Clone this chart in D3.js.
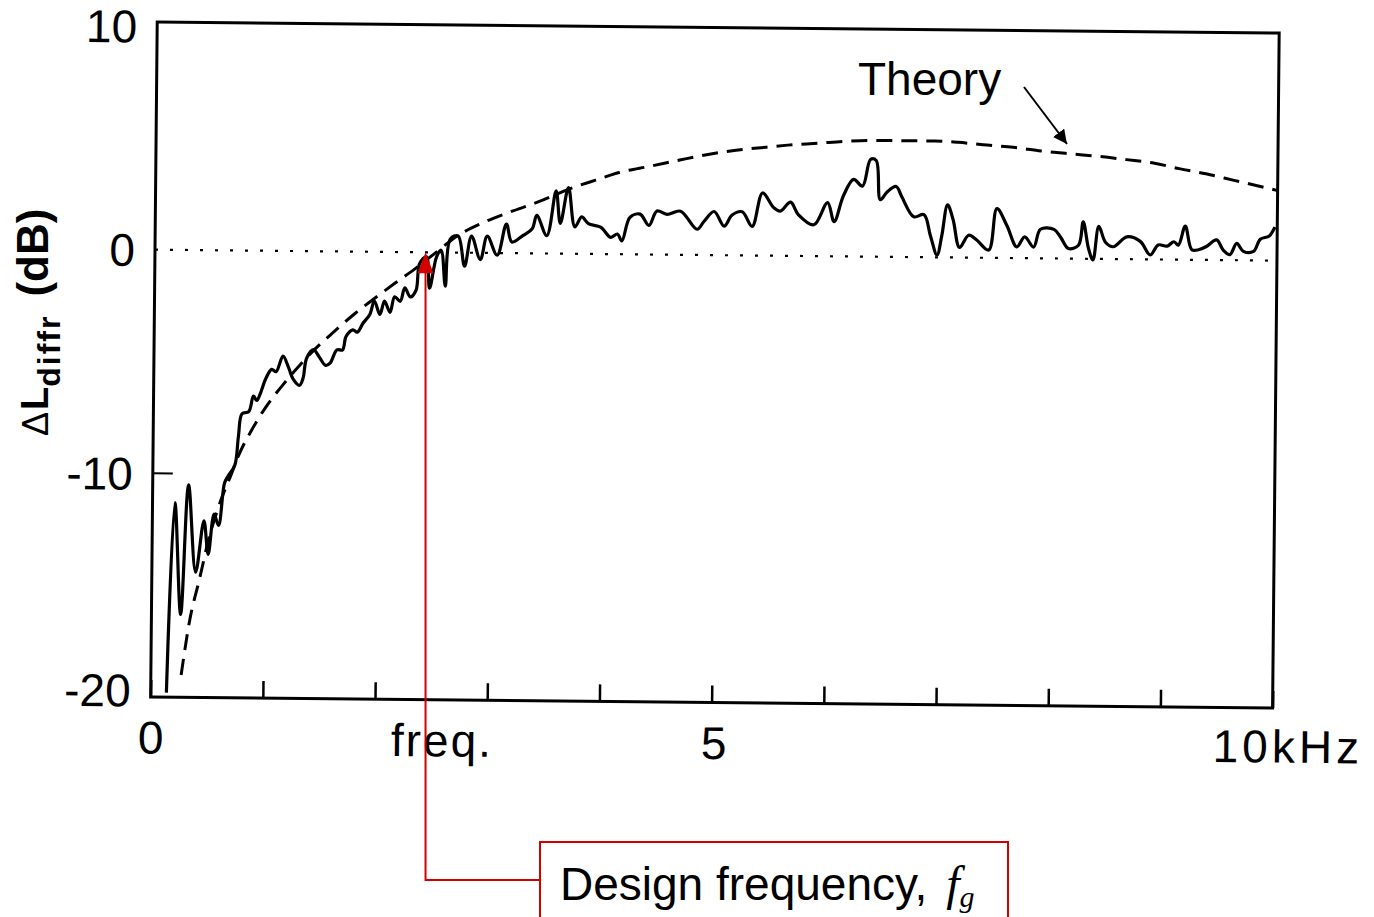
<!DOCTYPE html>
<html>
<head>
<meta charset="utf-8">
<script src="https://cdn.jsdelivr.net/npm/d3@7"></script>
<style>
    body { margin: 0; background: #fff; }
    svg { display: block; font-family: "Liberation Sans", Arial, sans-serif; }
</style>
</head>
<body>
<svg width="1374" height="917"></svg>
<script>
// measured diffraction level difference (kHz, dB)
let measFreq = [0.14, 0.20, 0.26, 0.32, 0.39, 0.46, 0.50, 0.55, 0.59, 0.64, 0.67, 0.73, 0.76, 0.79, 0.85, 0.89, 0.92, 0.95,
    1.00, 1.05, 1.09, 1.15, 1.20, 1.24, 1.30, 1.33, 1.36, 1.42, 1.47, 1.53, 1.57, 1.63, 1.68, 1.71, 1.77, 1.81, 1.86, 1.92, 1.96,
    2.01, 2.05, 2.10, 2.14, 2.19, 2.23, 2.28, 2.33, 2.36, 2.42, 2.45, 2.51, 2.55, 2.59, 2.63, 2.70, 2.76, 2.82, 2.90, 2.96,
    3.05, 3.13, 3.18, 3.28, 3.36, 3.40, 3.49, 3.57, 3.61, 3.68, 3.74, 3.80, 3.86, 3.97,
    4.06, 4.12, 4.16, 4.23, 4.32, 4.40, 4.47, 4.56, 4.68, 4.83, 4.89, 4.98,
    5.07, 5.14, 5.23, 5.32, 5.41, 5.51, 5.57, 5.66, 5.73, 5.87, 5.99,
    6.05, 6.13, 6.22, 6.30, 6.37, 6.42, 6.46, 6.52, 6.60, 6.65, 6.76, 6.85, 6.91, 6.97,
    7.01, 7.06, 7.11, 7.17, 7.25, 7.32, 7.43, 7.50, 7.59, 7.68, 7.75, 7.83, 7.89,
    8.01, 8.07, 8.14, 8.23, 8.27, 8.32, 8.36, 8.41, 8.47, 8.54, 8.66, 8.78, 8.87, 8.94,
    9.02, 9.08, 9.12, 9.18, 9.24, 9.30, 9.37, 9.46, 9.52, 9.58, 9.64, 9.70, 9.79, 9.85, 9.93, 9.98];
let measDb = [-19.8, -11.3, -16.3, -10.5, -14.4, -12.1, -13.6, -11.8, -12.3, -10.4, -10.1, -9.6, -8.3, -7.3, -7.2, -6.5, -6.7, -6.4,
    -5.7, -5.3, -5.4, -4.7, -5.2, -5.7, -6.0, -5.7, -4.8, -4.4, -4.7, -5.1, -5.0, -4.4, -4.4, -3.8, -3.5, -3.6, -3.2, -2.8, -2.2,
    -2.8, -2.2, -2.7, -2.0, -2.2, -1.6, -2.0, -1.7, -0.5, -0.2, -1.6, -0.2, 0.1, -1.5, 0.6, 0.75, -0.6, 0.75, -0.3, 0.75,
    -0.1, 1.3, 0.5, 0.8, 1.1, 1.7, 0.8, 2.8, 1.35, 2.95, 1.2, 1.65, 1.35, 1.2,
    0.75, 0.9, 0.6, 1.65, 1.8, 1.3, 1.95, 1.8, 1.95, 1.15, 1.5, 1.95,
    1.3, 1.8, 1.95, 1.3, 2.8, 2.15, 2.0, 2.4, 1.85, 1.4, 2.4,
    1.55, 2.7, 3.45, 3.15, 4.35, 4.3, 2.55, 2.9, 3.15, 2.7, 1.8, 1.9, 0.95, 0.1,
    0.95, 2.35, 1.7, 0.45, 1.0, 0.8, 0.35, 2.2, 1.45, 0.5, 0.95, 0.5, 1.3,
    1.3, 0.95, 0.45, 0.6, 1.65, 0.45, -0.05, 1.45, 0.75, 0.55, 1.0, 0.8, 0.2, 0.65,
    0.6, 0.8, 0.65, 1.5, 0.45, 0.45, 0.6, 0.9, 0.45, 0.25, 0.75, 0.4, 0.4, 0.95, 1.1, 1.5];

// theory curve
let theoryFreq = [0.27, 0.34, 0.43, 0.50, 0.60, 0.70, 0.76, 0.88, 1.0, 1.15, 1.30, 1.45, 1.60, 1.78, 1.93, 2.14, 2.33, 2.48,
    2.71, 2.90, 3.14, 3.41, 3.69, 3.92, 4.13, 4.41, 4.68, 4.92, 5.17, 5.44, 5.63, 5.90, 6.15, 6.39, 6.64, 6.94,
    7.15, 7.37, 7.64, 7.89, 8.16, 8.41, 8.65, 8.90, 9.12, 9.36, 9.61, 9.88, 10.0];
let theoryDb = [-19.0, -16.6, -14.6, -13.0, -11.3, -10.0, -9.2, -8.0, -7.0, -6.0, -5.1, -4.3, -3.6, -2.8, -2.2, -1.4, -0.7, -0.1,
    0.8, 1.3, 1.8, 2.3, 2.9, 3.3, 3.65, 3.95, 4.25, 4.5, 4.7, 4.85, 4.95, 5.05, 5.15, 5.2, 5.2, 5.2,
    5.15, 5.05, 4.95, 4.8, 4.68, 4.58, 4.45, 4.3, 4.07, 3.85, 3.57, 3.27, 3.13];

let xTicks = [0, 1, 2, 3, 4, 5, 6, 7, 8, 9, 10];
let xTickLabels = {0: "0", 5: "5", 10: "10kHz"};
let yTicks = [10, 0, -10, -20];
let designFreq = 2.42;

let svg = d3.select("svg");
let tilt = 0.56; // the scanned figure is slightly rotated

let x = d3.scaleLinear().domain([0, 10]).range([155, 1277]);
let y = d3.scaleLinear().domain([-20, 10]).range([697, 26]);

let g = svg.append("g")
    .attr("transform", "rotate(" + tilt + "," + x(0) + "," + y(0) + ")");

// frame
g.append("rect")
    .attr("x", x(0)).attr("y", y(10) - 4)
    .attr("width", x(10) - x(0)).attr("height", y(-20) - y(10) + 4)
    .attr("fill", "none").attr("stroke", "#000").attr("stroke-width", 3);

// bottom axis ticks (inward)
let xAxis = g.append("g")
    .attr("transform", "translate(0," + y(-20) + ")")
    .call(d3.axisBottom(x).tickValues(xTicks).tickSize(-17).tickPadding(24)
        .tickFormat(function (d) { return xTickLabels[d] || ""; }));
xAxis.select(".domain").remove();
xAxis.selectAll(".tick line").attr("stroke", "#000").attr("stroke-width", 2.5);
xAxis.selectAll(".tick text")
    .attr("font-family", "Liberation Sans, Arial, sans-serif")
    .attr("font-size", 46).attr("fill", "#000")
    .attr("dy", "0.71em")
    .attr("text-anchor", function (d) { return d === 10 ? "start" : "middle"; })
    .attr("x", function (d) { return d === 10 ? -60 : (d === 0 ? 0 : 2); })
    .attr("y", function (d) { return d === 10 ? 22 : 24; })
    .style("letter-spacing", function (d) { return d === 10 ? "4px" : "0px"; });

g.append("text")
    .attr("x", x(2.6)).attr("y", y(-20) + 24)
    .attr("dy", "0.71em")
    .attr("text-anchor", "middle")
    .attr("font-size", 46)
    .style("letter-spacing", "2px")
    .text("freq.");

// left axis labels + small tick
let yAxis = g.append("g")
    .attr("transform", "translate(" + x(0) + ",0)")
    .call(d3.axisLeft(y).tickValues(yTicks).tickSize(0).tickPadding(20)
        .tickFormat(function (d) { return String(d); }));
yAxis.select(".domain").remove();
yAxis.selectAll(".tick text")
    .attr("font-family", "Liberation Sans, Arial, sans-serif")
    .attr("font-size", 46).attr("fill", "#000")
    .attr("dy", function (d) { return d === -20 ? "0.2em" : "0.35em"; });

g.append("line")
    .attr("x1", x(0)).attr("x2", x(0) + 20)
    .attr("y1", y(-10)).attr("y2", y(-10))
    .attr("stroke", "#000").attr("stroke-width", 2);

// zero line
g.append("line")
    .attr("x1", x(0)).attr("x2", x(10))
    .attr("y1", y(0)).attr("y2", y(0))
    .attr("stroke", "#000").attr("stroke-width", 2.2)
    .attr("stroke-dasharray", "3,12");

let line = d3.line()
    .x(function (d) { return x(d[0]); })
    .y(function (d) { return y(d[1]); });

let theory = d3.zip(theoryFreq, theoryDb);
let meas = d3.zip(measFreq, measDb);

g.append("path")
    .datum(theory)
    .attr("d", line.curve(d3.curveMonotoneX))
    .attr("fill", "none").attr("stroke", "#000")
    .attr("stroke-width", 3).attr("stroke-dasharray", "16,9");

g.append("path")
    .datum(meas)
    .attr("d", line.curve(d3.curveCatmullRom.alpha(0.5)))
    .attr("fill", "none").attr("stroke", "#000")
    .attr("stroke-width", 3.2).attr("stroke-linejoin", "round");

// Theory label + arrow
svg.append("text")
    .attr("x", 858).attr("y", 95)
    .attr("font-size", 46)
    .text("Theory");

let defs = svg.append("defs");
defs.append("marker")
    .attr("id", "blackhead").attr("viewBox", "0 0 10 10")
    .attr("refX", 10).attr("refY", 5)
    .attr("markerWidth", 7).attr("markerHeight", 7)
    .attr("markerUnits", "strokeWidth")
    .attr("orient", "auto")
    .append("path").attr("d", "M0,0 L10,5 L0,10 Z").attr("fill", "#000");

svg.append("line")
    .attr("x1", 1024).attr("y1", 87)
    .attr("x2", 1067).attr("y2", 144)
    .attr("stroke", "#000").attr("stroke-width", 2)
    .attr("marker-end", "url(#blackhead)");

// y axis title
let yt = svg.append("text")
    .attr("transform", "translate(48,436) rotate(-90)")
    .attr("font-weight", "bold")
    .attr("fill", "#000");
yt.append("tspan").attr("font-size", 36).attr("font-weight", "normal").text("\u0394");
yt.append("tspan").attr("font-size", 38).attr("dx", 2).text("L");
yt.append("tspan").attr("font-size", 32).attr("dy", 12).style("letter-spacing", "2px").text("diffr");
yt.append("tspan").attr("font-size", 44).attr("dy", -12).attr("dx", 18).text("(dB)");

// design frequency annotation (red)
let red = "#d40000";
let rad = tilt * Math.PI / 180;
let tipX = x(designFreq) - 1;
let tipY = y(0) + (tipX - x(0)) * Math.tan(rad);
let elbowY = 880;
let boxX = 540;

svg.append("path")
    .attr("d", "M" + boxX + "," + elbowY + " H" + tipX + " V" + (tipY + 18))
    .attr("fill", "none").attr("stroke", red).attr("stroke-width", 2);
svg.append("path")
    .attr("d", "M" + tipX + "," + tipY + " L" + (tipX - 8) + "," + (tipY + 21) + " L" + (tipX + 8) + "," + (tipY + 21) + " Z")
    .attr("fill", red);

svg.append("rect")
    .attr("x", boxX).attr("y", 842)
    .attr("width", 468).attr("height", 90)
    .attr("fill", "#fff").attr("stroke", red).attr("stroke-width", 2);

let dt = svg.append("text")
    .attr("x", 560).attr("y", 900)
    .attr("font-size", 46).attr("fill", "#000");
dt.append("tspan").text("Design frequency, ");
dt.append("tspan").attr("font-family", "Liberation Serif, Times New Roman, serif")
    .attr("font-style", "italic").attr("font-size", 48).attr("dx", 6).text("f");
dt.append("tspan").attr("font-family", "Liberation Serif, Times New Roman, serif")
    .attr("font-style", "italic").attr("font-size", 30).attr("dy", 7).text("g");
</script>
</body>
</html>
